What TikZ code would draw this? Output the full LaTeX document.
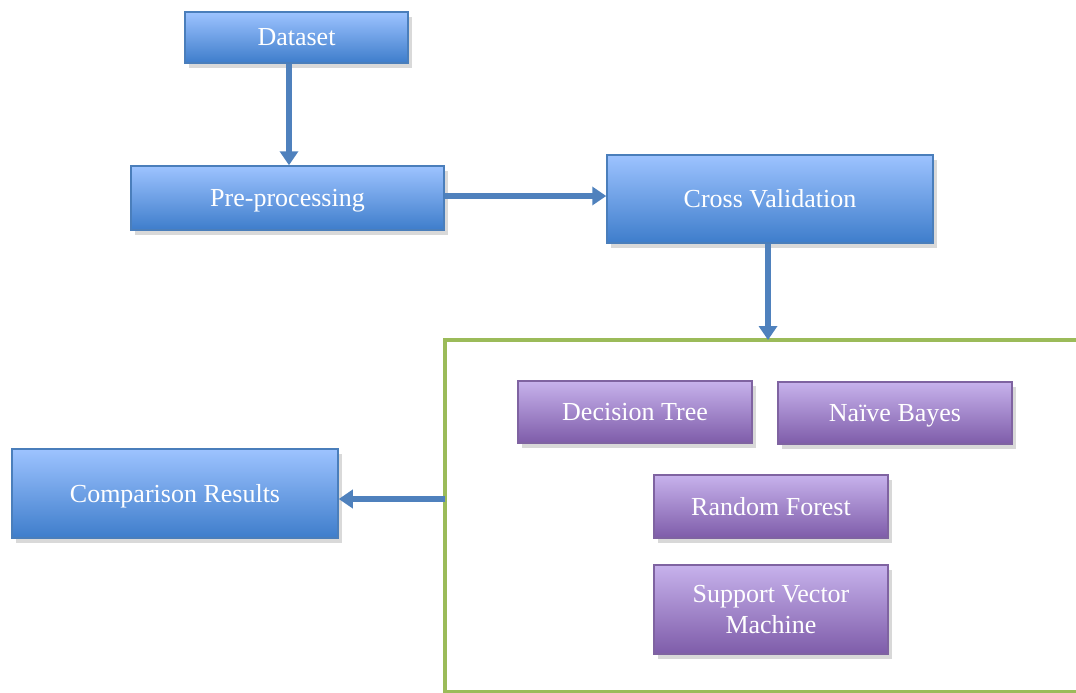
\documentclass[tikz,border=0pt]{standalone}
\usepackage{fontspec}
\setmainfont{Liberation Serif}
\usetikzlibrary{shadows,arrows.meta}
\definecolor{bluetop}{HTML}{9DC3FF}
\definecolor{bluebot}{HTML}{3E7DCB}
\definecolor{blueline}{HTML}{4A7EBB}
\definecolor{purptop}{HTML}{C7B2EC}
\definecolor{purpbot}{HTML}{7E5CA9}
\definecolor{purpline}{HTML}{7F63A1}
\definecolor{framegreen}{HTML}{9BBB59}
\definecolor{arrowblue}{HTML}{4F81BD}
\tikzset{
  boxbase/.style={line width=1.5pt, text=white, font=\fontsize{26}{31}\selectfont,
    align=center, inner sep=0pt, text height=17pt, text depth=0pt,
    drop shadow={shadow xshift=4pt, shadow yshift=-5pt, fill=black!25, opacity=0.6}},
  bluebox/.style={boxbase, draw=blueline, top color=bluetop, bottom color=bluebot},
  purpbox/.style={boxbase, draw=purpline, top color=purptop, bottom color=purpbot},
  conn/.style={draw=arrowblue, line width=5.5pt, -{Triangle[length=14pt,width=18pt]}}
}
\begin{document}
\begin{tikzpicture}[x=1pt,y=-1pt]
\useasboundingbox (0,0) rectangle (1076,693);
\begin{scope}
\clip (0,0) rectangle (1076,693);
\draw[framegreen, line width=3.5pt, drop shadow={shadow xshift=4pt, shadow yshift=-5pt, fill=black!15, opacity=0.6}, fill=white] (445,340) rectangle (1100,692);
\end{scope}
\node[bluebox, minimum width=223pt, minimum height=51pt] (data) at (296.5,37.5) {Dataset};
\node[bluebox, minimum width=313pt, minimum height=64pt] (pre) at (287.5,198) {Pre-processing};
\node[bluebox, minimum width=326pt, minimum height=88pt] (cv) at (770,199) {Cross Validation};
\node[bluebox, minimum width=326pt, minimum height=89pt] (cmp) at (175,493.5) {Comparison Results};
\node[purpbox, minimum width=234pt, minimum height=62pt] (dt) at (635,412) {Decision Tree};
\node[purpbox, minimum width=234pt, minimum height=62pt] (nb) at (895,413) {Naïve Bayes};
\node[purpbox, minimum width=234pt, minimum height=63pt] (rf) at (771,506.5) {Random Forest};
\node[purpbox, minimum width=234pt, minimum height=89pt, text height=, text depth=] (svm) at (771,609.5) {Support Vector\\Machine};
\coordinate (ftop) at (768,340);
\coordinate (fleft) at (445,499);
\draw[conn] (data.south -| 289,0) -- (pre.north -| 289,0);
\draw[conn] (pre.east |- 0,196) -- (cv.west |- 0,196);
\draw[conn] (cv.south -| 768,0) -- (ftop);
\draw[conn] (fleft) -- (cmp.east |- fleft);
\end{tikzpicture}
\end{document}
